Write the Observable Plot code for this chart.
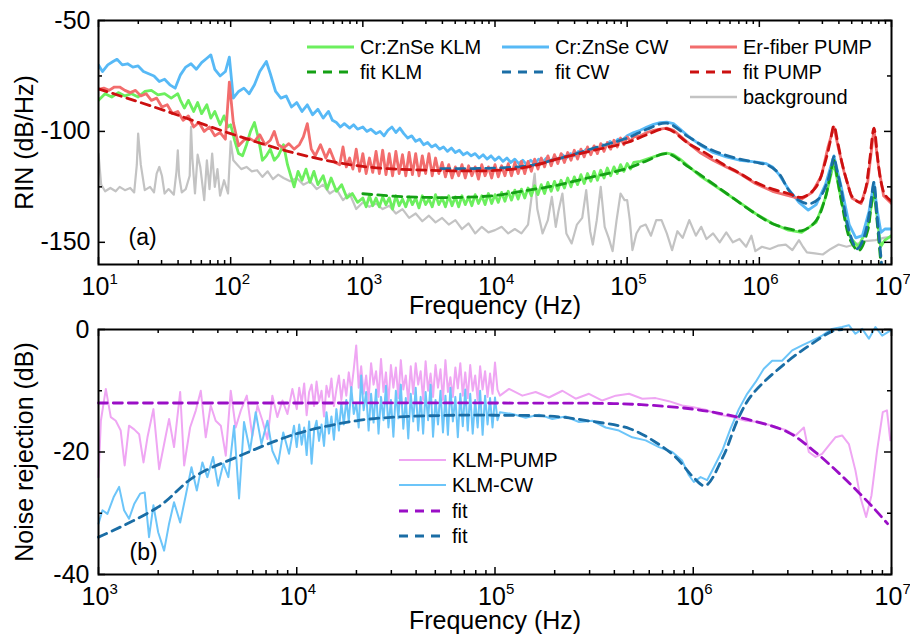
<!DOCTYPE html>
<html><head><meta charset="utf-8">
<script src="https://cdn.jsdelivr.net/npm/d3@7"></script>
<script src="https://cdn.jsdelivr.net/npm/@observablehq/plot@0.6"></script>
<style>
body{margin:0;background:#fff;font-family:"Liberation Sans",Arial,sans-serif;}
#chart{width:910px;height:637px;position:relative;background:#fff;}
#chart svg{display:block;overflow:visible;}
</style></head><body><div id="chart"></div>
<script>
// ===== DATA (first item = log10 of frequency in Hz, second = value) =====
// Panel (a): RIN in dB/Hz
const rinKLM = [[1.00,-86],[1.05,-83],[1.10,-84.5],[1.15,-82.5],[1.20,-84],[1.25,-83],[1.30,-84.5],[1.35,-82],[1.40,-81.5],[1.45,-83.5],[1.50,-83],[1.55,-85],[1.60,-83],[1.62,-86],[1.65,-89.5],[1.68,-86],[1.72,-91],[1.75,-87],[1.78,-92],[1.82,-88],[1.85,-94],[1.88,-91],[1.92,-97],[1.95,-93],[1.98,-98],[2.00,-97],[2.03,-104],[2.06,-110],[2.09,-111],[2.12,-106],[2.15,-100],[2.18,-96],[2.21,-103],[2.24,-113],[2.27,-111],[2.30,-108],[2.33,-113],[2.36,-111],[2.40,-106],[2.43,-115],[2.46,-121],[2.48,-125],[2.51,-118],[2.54,-122],[2.57,-117],[2.60,-123],[2.63,-118],[2.66,-124],[2.70,-120],[2.73,-126],[2.76,-121],[2.80,-127],[2.84,-124],[2.88,-130],[2.92,-128],[2.96,-132],[3.000,-130],[3.025,-134],[3.05,-129],[3.075,-133.5],[3.10,-130],[3.125,-134],[3.15,-129.5],[3.175,-133],[3.20,-130],[3.225,-135],[3.25,-129],[3.275,-133.5],[3.30,-130.5],[3.325,-134],[3.35,-129.5],[3.375,-133],[3.40,-130],[3.425,-134.5],[3.45,-129],[3.475,-133],[3.50,-130.5],[3.525,-134],[3.55,-128.5],[3.575,-133],[3.60,-130],[3.625,-134],[3.65,-129],[3.675,-133.5],[3.70,-129.5],[3.725,-134],[3.75,-129],[3.775,-133],[3.80,-129.5],[3.825,-133.5],[3.85,-128.5],[3.875,-132.5],[3.90,-129],[3.925,-133],[3.95,-128],[3.975,-132.5],[4.00,-128.5],[4.025,-132],[4.05,-127.5],[4.075,-131.5],[4.10,-127],[4.125,-131],[4.15,-126.5],[4.175,-130.5],[4.20,-126],[4.225,-130],[4.25,-125.5],[4.275,-129],[4.30,-124.5],[4.325,-128.5],[4.35,-124],[4.375,-128],[4.40,-123],[4.425,-127],[4.45,-122.5],[4.475,-126.5],[4.50,-122],[4.525,-125.5],[4.55,-121],[4.575,-125],[4.60,-120.5],[4.625,-124],[4.65,-119.5],[4.675,-123.5],[4.70,-119],[4.725,-122.5],[4.75,-118],[4.775,-122],[4.80,-117.5],[4.825,-121],[4.85,-116.5],[4.875,-120],[4.90,-116],[4.925,-119],[4.95,-115],[4.975,-118],[5.00,-114.5],[5.025,-117],[5.05,-114],[5.10,-113.5],[5.15,-112.5],[5.20,-111.5],[5.25,-110.5],[5.30,-109.8],[5.35,-110.5],[5.40,-112.5],[5.47,-116],[5.55,-120],[5.65,-124],[5.75,-128],[5.85,-132],[5.97,-137],[6.10,-141.5],[6.22,-144.5],[6.32,-145.5],[6.43,-141],[6.50,-130],[6.564,-114],[6.627,-133],[6.69,-148],[6.75,-152],[6.82,-143],[6.867,-127],[6.89,-138],[6.918,-152],[6.95,-149],[7.00,-147]];
const rinCW = [[1.00,-70],[1.03,-73],[1.07,-70],[1.11,-68.5],[1.14,-67.5],[1.18,-70],[1.22,-69.5],[1.26,-71],[1.30,-70.5],[1.34,-73],[1.38,-74],[1.42,-75],[1.46,-77.5],[1.50,-76.5],[1.54,-79],[1.58,-80.5],[1.62,-74.5],[1.66,-71],[1.70,-69.5],[1.74,-72],[1.78,-69],[1.82,-67],[1.85,-65.5],[1.88,-72],[1.92,-75],[1.96,-73],[1.99,-66.5],[2.02,-85],[2.06,-82],[2.10,-80.5],[2.14,-83],[2.18,-79],[2.22,-73],[2.27,-68.5],[2.30,-74],[2.34,-82],[2.38,-85],[2.42,-84],[2.46,-89],[2.50,-87],[2.54,-91],[2.58,-88],[2.62,-92.5],[2.66,-90],[2.70,-94],[2.74,-91],[2.77,-95],[2.80,-96],[2.83,-98],[2.86,-96.5],[2.90,-98.5],[2.93,-97],[2.96,-99],[3.00,-98],[3.03,-100],[3.06,-99],[3.10,-101],[3.13,-100],[3.16,-102],[3.19,-99.5],[3.22,-98],[3.25,-100.5],[3.28,-98.5],[3.31,-101],[3.34,-103],[3.37,-102],[3.40,-104.5],[3.43,-103.5],[3.46,-106],[3.49,-105],[3.52,-107],[3.55,-106],[3.58,-108],[3.61,-107],[3.64,-109],[3.67,-107.5],[3.70,-109.5],[3.73,-108.5],[3.76,-110.5],[3.79,-109.5],[3.82,-111],[3.85,-110],[3.88,-112],[3.91,-110.5],[3.94,-112.5],[3.97,-111],[4.00,-113],[4.03,-111.5],[4.06,-113.5],[4.09,-112],[4.12,-114],[4.15,-112.5],[4.18,-114.5],[4.21,-113],[4.24,-115],[4.27,-113],[4.30,-114.5],[4.33,-112.5],[4.36,-114],[4.39,-112],[4.42,-113.5],[4.45,-111.5],[4.48,-112.5],[4.51,-110.5],[4.54,-112],[4.57,-110],[4.60,-111],[4.63,-109],[4.66,-110],[4.69,-108],[4.72,-109],[4.75,-107],[4.78,-108],[4.81,-106],[4.84,-106.5],[4.87,-104.5],[4.90,-105.5],[4.93,-103.5],[4.96,-104],[5.00,-102],[5.05,-100.5],[5.10,-99.5],[5.15,-98],[5.20,-96.8],[5.25,-96],[5.30,-95.8],[5.35,-96.5],[5.40,-99],[5.47,-102.5],[5.55,-106],[5.65,-109.5],[5.75,-111.5],[5.85,-113],[5.95,-113.6],[6.05,-114.5],[6.10,-116],[6.15,-119.5],[6.22,-126],[6.30,-132],[6.37,-135.5],[6.43,-133],[6.50,-124],[6.564,-111],[6.62,-125],[6.68,-142],[6.73,-148],[6.78,-147],[6.83,-136],[6.867,-123],[6.89,-135],[6.92,-145.5],[6.95,-144],[7.00,-144]];
const rinPUMP = [[1.00,-81],[1.04,-80.5],[1.08,-81.5],[1.12,-80],[1.16,-80],[1.20,-81.5],[1.24,-82.5],[1.28,-81.5],[1.32,-84],[1.36,-83],[1.40,-86],[1.44,-85],[1.48,-89],[1.52,-88],[1.56,-92],[1.60,-91],[1.64,-95],[1.68,-93],[1.72,-98],[1.76,-96],[1.80,-100],[1.84,-98],[1.88,-102],[1.92,-100.5],[1.96,-103.5],[1.99,-77.8],[2.02,-96],[2.06,-106.5],[2.10,-104],[2.14,-103],[2.18,-104.5],[2.22,-101.5],[2.26,-106],[2.30,-104],[2.33,-100],[2.36,-106],[2.40,-107.5],[2.44,-105.5],[2.48,-108],[2.52,-106],[2.55,-102.5],[2.58,-96.5],[2.61,-108],[2.64,-111],[2.68,-106],[2.72,-112],[2.75,-108],[2.79,-114],[2.825,-115],[2.85,-107],[2.875,-116],[2.90,-112],[2.925,-117],[2.95,-108],[2.975,-118],[3.00,-110],[3.025,-119],[3.05,-112],[3.075,-118.5],[3.10,-109],[3.125,-119],[3.15,-108.5],[3.175,-119.5],[3.20,-110],[3.225,-120],[3.25,-109],[3.275,-119],[3.30,-110.5],[3.325,-120],[3.35,-109.5],[3.375,-119.5],[3.40,-110],[3.425,-120],[3.45,-111],[3.475,-119],[3.50,-110],[3.525,-120],[3.55,-112],[3.575,-119],[3.60,-114],[3.625,-120.5],[3.65,-115],[3.675,-121],[3.70,-116],[3.725,-120],[3.75,-115],[3.775,-121],[3.80,-115.5],[3.825,-120],[3.85,-116],[3.875,-121.5],[3.90,-115],[3.925,-120],[3.95,-116],[3.975,-121],[4.00,-115],[4.025,-120.5],[4.05,-115.5],[4.075,-120],[4.10,-114.5],[4.125,-120],[4.15,-114],[4.175,-119],[4.20,-113.5],[4.225,-119],[4.25,-113.5],[4.275,-118],[4.30,-112.5],[4.325,-117],[4.35,-112],[4.375,-116],[4.40,-111],[4.425,-115.5],[4.45,-110.5],[4.475,-114.5],[4.50,-110],[4.525,-114],[4.55,-109.5],[4.575,-113],[4.60,-108.5],[4.625,-112.5],[4.65,-108],[4.675,-111.5],[4.70,-107],[4.725,-110.5],[4.75,-106.5],[4.775,-110],[4.80,-105.5],[4.825,-109],[4.85,-105],[4.875,-108],[4.90,-104],[4.925,-107],[4.95,-103],[4.975,-106],[5.00,-102.5],[5.025,-104.5],[5.05,-102.5],[5.10,-102],[5.15,-100.5],[5.20,-99.5],[5.25,-99],[5.30,-98.5],[5.35,-99.5],[5.40,-102],[5.47,-105.6],[5.55,-109.5],[5.65,-113],[5.75,-116],[5.85,-119],[5.97,-123.5],[6.10,-127],[6.22,-129],[6.32,-130.5],[6.40,-127.5],[6.47,-120],[6.52,-107],[6.564,-98],[6.60,-108],[6.64,-118],[6.70,-130],[6.77,-132.5],[6.82,-123],[6.867,-99],[6.90,-115],[6.94,-129],[7.00,-132.5]];
const rinBackground = [[1.00,-110],[1.02,-124],[1.05,-127],[1.09,-125.5],[1.13,-127],[1.16,-125],[1.20,-126.5],[1.24,-125.5],[1.27,-127.5],[1.29,-115],[1.30,-101],[1.32,-115],[1.35,-126.5],[1.39,-125],[1.42,-127.5],[1.44,-119],[1.46,-116],[1.48,-120],[1.50,-128],[1.53,-126],[1.57,-128.5],[1.59,-118],[1.60,-108.5],[1.61,-120],[1.63,-127.5],[1.66,-126],[1.69,-120],[1.70,-98],[1.71,-112],[1.73,-128],[1.75,-110.5],[1.77,-116],[1.80,-131],[1.82,-113],[1.84,-126],[1.86,-110],[1.88,-125],[1.90,-117],[1.92,-129],[1.95,-122],[1.98,-128],[2.00,-104.5],[2.02,-113],[2.05,-115],[2.08,-117],[2.12,-116],[2.16,-118],[2.20,-117.5],[2.24,-120.5],[2.28,-118],[2.32,-121.5],[2.36,-119.5],[2.40,-121],[2.45,-122.5],[2.50,-121],[2.55,-124],[2.60,-122.5],[2.65,-126],[2.70,-124],[2.75,-128],[2.80,-126],[2.85,-131],[2.90,-128],[2.95,-135],[3.00,-132],[3.05,-134],[3.10,-132.5],[3.15,-135],[3.20,-133.5],[3.25,-137],[3.30,-135],[3.35,-139],[3.40,-137],[3.45,-140.5],[3.50,-138],[3.55,-141],[3.60,-139],[3.65,-142],[3.70,-140],[3.75,-144],[3.80,-141.5],[3.85,-146],[3.90,-143],[3.95,-145.5],[4.00,-144.5],[4.05,-143],[4.10,-146],[4.15,-144],[4.20,-146],[4.25,-142],[4.28,-128],[4.30,-119],[4.32,-135],[4.36,-146],[4.40,-140],[4.43,-129.5],[4.46,-143],[4.48,-136],[4.51,-128],[4.54,-146],[4.58,-150.5],[4.62,-142],[4.66,-139],[4.69,-126.5],[4.72,-145],[4.74,-151],[4.77,-140],[4.80,-125],[4.83,-143],[4.86,-148],[4.89,-154],[4.92,-140],[4.95,-128],[4.98,-131],[5.00,-131],[5.02,-140],[5.04,-153.5],[5.07,-146],[5.10,-143],[5.14,-142],[5.18,-147],[5.22,-140],[5.26,-140],[5.30,-146],[5.34,-153.5],[5.38,-145],[5.42,-148],[5.47,-140],[5.52,-147],[5.56,-143],[5.60,-148.5],[5.65,-146],[5.70,-150],[5.75,-145.5],[5.80,-150],[5.85,-148.5],[5.90,-152],[5.94,-147],[5.97,-154],[6.02,-152],[6.08,-153],[6.14,-151.5],[6.20,-151],[6.25,-153.5],[6.30,-149],[6.33,-152],[6.36,-154.5],[6.42,-155],[6.48,-155.5],[6.54,-153],[6.60,-151],[6.66,-152],[6.72,-151],[6.80,-149.5],[6.88,-149],[6.94,-148],[7.00,-147.5]];
const fitKLM = [[3.0,-128.1],[3.3,-129.4],[3.7,-129.8],[4.0,-128.9],[4.2,-127],[4.45,-124.5],[4.7,-121],[5.0,-116.7],[5.15,-113.2],[5.3,-110],[5.467,-116.1],[5.72,-126.6],[5.97,-137.1],[6.1,-141.6],[6.224,-143.9],[6.325,-144.7],[6.43,-140.2],[6.5,-129.7],[6.535,-120],[6.564,-113.1],[6.59,-121],[6.627,-133.4],[6.69,-149.2],[6.753,-153.7],[6.82,-144.7],[6.845,-134],[6.867,-126.6],[6.89,-140],[6.918,-158.2],[6.94,-170]];
const fitCW = [[3.59,-116.8],[3.9,-116.7],[4.25,-115.5],[4.5,-112],[4.75,-107.5],[5.0,-103],[5.15,-99],[5.3,-96.3],[5.467,-102.6],[5.594,-107.1],[5.72,-110.2],[5.846,-112.4],[5.97,-113.9],[6.07,-115.4],[6.15,-119.1],[6.224,-126.6],[6.3,-131.1],[6.376,-132.6],[6.45,-130.4],[6.514,-122.9],[6.545,-116],[6.564,-111.3],[6.585,-117],[6.614,-124.4],[6.678,-144.7],[6.74,-152.9],[6.79,-148],[6.83,-137.8],[6.85,-129],[6.867,-122.9],[6.89,-137.8],[6.918,-155.2],[6.94,-170]];
const fitPUMP = [[1.0,-80.8],[1.5,-90.6],[2.0,-101],[2.5,-110],[3.0,-115.8],[3.5,-117.5],[4.0,-117.6],[4.25,-116],[4.5,-112],[4.75,-108.5],[5.0,-105],[5.15,-101.5],[5.3,-98.8],[5.467,-105.6],[5.6,-110],[5.72,-114.6],[5.85,-118.8],[5.97,-122.9],[6.1,-126],[6.224,-128.1],[6.325,-129.7],[6.43,-125],[6.5,-113.5],[6.535,-105],[6.564,-97.5],[6.595,-105.5],[6.627,-114.6],[6.67,-124],[6.703,-129.5],[6.766,-131.9],[6.8,-127],[6.835,-113],[6.867,-98.5],[6.895,-112],[6.918,-122],[6.95,-128.5],[7.0,-131.5]];

// Panel (b): noise rejection in dB
const rejPUMP = [[3.000,-24.1],[3.012,-14.9],[3.037,-9.7],[3.062,-14.3],[3.087,-14.9],[3.112,-16.5],[3.132,-22.2],[3.154,-15.7],[3.180,-16.3],[3.205,-17.1],[3.227,-21.7],[3.247,-17.6],[3.277,-13.0],[3.306,-22.8],[3.331,-18.7],[3.356,-14.6],[3.381,-19.2],[3.412,-10.2],[3.432,-22.2],[3.462,-16.0],[3.491,-13.2],[3.516,-10.0],[3.541,-17.6],[3.566,-12.4],[3.591,-14.9],[3.617,-15.7],[3.642,-20.6],[3.667,-10.0],[3.692,-16.0],[3.718,-13.2],[3.748,-10.8],[3.776,-17.4],[3.802,-12.4],[3.827,-14.9],[3.852,-17.9],[3.877,-10.8],[3.902,-14.3],[3.928,-11.6],[3.953,-13.8],[3.978,-9.7],[4.0000,-13.0],[4.0125,-9.5],[4.0250,-12.0],[4.0375,-8.8],[4.0500,-14.0],[4.0625,-10.2],[4.0750,-9.0],[4.0875,-12.5],[4.1000,-8.5],[4.1125,-11.8],[4.1250,-10.0],[4.1375,-14.2],[4.1500,-9.2],[4.1625,-11.0],[4.1750,-8.0],[4.1875,-12.5],[4.2000,-9.8],[4.2125,-7.5],[4.2250,-11.5],[4.2375,-8.2],[4.2500,-10.8],[4.2625,-7.0],[4.2750,-10.0],[4.2875,-6.5],[4.3000,-2.6],[4.3125,-9.5],[4.3250,-6.0],[4.3375,-10.5],[4.3500,-7.5],[4.3625,-11.5],[4.3750,-5.5],[4.3875,-9.0],[4.4000,-6.8],[4.4125,-11.0],[4.4250,-4.8],[4.4375,-10.2],[4.4500,-7.0],[4.4625,-12.0],[4.4750,-5.8],[4.4875,-9.5],[4.5000,-6.2],[4.5125,-11.2],[4.5250,-5.0],[4.5375,-9.8],[4.5500,-7.5],[4.5625,-11.8],[4.5750,-6.0],[4.5875,-10.5],[4.6000,-5.5],[4.6125,-9.0],[4.6250,-6.8],[4.6375,-11.5],[4.6500,-5.2],[4.6625,-10.0],[4.6750,-7.2],[4.6875,-11.0],[4.7000,-5.8],[4.7125,-9.5],[4.7250,-6.5],[4.7375,-11.5],[4.7500,-5.0],[4.7625,-10.2],[4.7750,-7.8],[4.7875,-11.0],[4.8000,-6.2],[4.8125,-9.6],[4.8250,-5.5],[4.8375,-10.8],[4.8500,-7.0],[4.8625,-11.2],[4.8750,-5.8],[4.8875,-10.0],[4.9000,-7.5],[4.9125,-11.5],[4.9250,-6.0],[4.9375,-9.8],[4.9500,-6.8],[4.9625,-11.0],[4.9750,-7.2],[4.9875,-10.5],[5.0000,-5.4],[5.0125,-9.8],[5.0250,-10.8],[5.071,-9.7],[5.138,-10.8],[5.205,-10.2],[5.272,-11.1],[5.340,-10.0],[5.407,-11.3],[5.474,-10.5],[5.541,-11.6],[5.609,-10.8],[5.676,-10.5],[5.743,-11.3],[5.810,-11.2],[5.877,-11.7],[5.944,-12.4],[6.000,-12.7],[6.062,-13.1],[6.129,-13.9],[6.197,-14.3],[6.264,-14.9],[6.331,-15.1],[6.398,-15.7],[6.465,-16.4],[6.516,-17.3],[6.558,-16.0],[6.583,-20.0],[6.617,-20.8],[6.650,-20.3],[6.684,-18.9],[6.717,-17.6],[6.751,-17.3],[6.785,-18.7],[6.818,-23.0],[6.843,-27.4],[6.872,-30.6],[6.899,-27.1],[6.927,-19.8],[6.956,-13.5],[6.977,-13.2],[6.994,-18.1]];
const rejCW = [[3.000,-31.7],[3.020,-29.5],[3.045,-30.1],[3.076,-27.4],[3.104,-25.7],[3.129,-29.5],[3.154,-30.9],[3.180,-28.5],[3.210,-26.8],[3.233,-26.6],[3.255,-33.9],[3.277,-28.7],[3.301,-33.1],[3.331,-36.1],[3.356,-31.7],[3.381,-28.2],[3.412,-31.5],[3.440,-27.1],[3.469,-22.5],[3.496,-26.3],[3.524,-21.7],[3.549,-24.1],[3.578,-20.8],[3.603,-25.5],[3.630,-21.9],[3.655,-24.1],[3.684,-15.7],[3.709,-27.6],[3.734,-15.1],[3.764,-19.8],[3.793,-13.5],[3.822,-18.7],[3.852,-14.9],[3.877,-19.8],[3.906,-21.9],[3.932,-16.8],[3.961,-20.3],[3.986,-15.7],[4.0000,-19.2],[4.0125,-15.5],[4.0250,-18.8],[4.0375,-16.0],[4.0500,-20.5],[4.0625,-15.0],[4.0750,-21.9],[4.0875,-16.5],[4.1000,-14.9],[4.1125,-18.2],[4.1250,-15.5],[4.1375,-19.0],[4.1500,-13.5],[4.1625,-17.0],[4.1750,-14.2],[4.1875,-18.0],[4.2000,-13.0],[4.2125,-16.5],[4.2250,-12.0],[4.2375,-15.5],[4.2500,-11.5],[4.2625,-15.0],[4.2750,-9.4],[4.2875,-13.8],[4.3000,-12.0],[4.3125,-16.0],[4.3250,-7.5],[4.3375,-13.2],[4.3500,-10.2],[4.3625,-16.5],[4.3750,-10.5],[4.3875,-15.2],[4.4000,-9.8],[4.4125,-17.0],[4.4250,-11.0],[4.4375,-14.8],[4.4500,-9.2],[4.4625,-16.0],[4.4750,-11.5],[4.4875,-17.5],[4.5000,-10.0],[4.5125,-14.5],[4.5250,-9.0],[4.5375,-16.2],[4.5500,-11.2],[4.5625,-17.8],[4.5750,-10.5],[4.5875,-15.0],[4.6000,-9.5],[4.6125,-16.5],[4.6250,-11.0],[4.6375,-17.0],[4.6500,-10.2],[4.6625,-14.8],[4.6750,-9.0],[4.6875,-17.5],[4.7000,-11.5],[4.7125,-15.5],[4.7250,-10.0],[4.7375,-16.8],[4.7500,-10.8],[4.7625,-17.2],[4.7750,-9.5],[4.7875,-15.0],[4.8000,-11.0],[4.8125,-17.6],[4.8250,-10.5],[4.8375,-15.8],[4.8500,-9.8],[4.8625,-16.5],[4.8750,-10.5],[4.8875,-17.0],[4.9000,-11.5],[4.9125,-16.0],[4.9250,-10.0],[4.9375,-17.2],[4.9500,-10.8],[4.9625,-15.5],[4.9750,-11.2],[4.9875,-16.0],[5.0000,-11.1],[5.0125,-14.8],[5.0250,-13.5],[5.088,-13.8],[5.155,-14.4],[5.222,-13.9],[5.289,-14.6],[5.356,-14.2],[5.424,-15.1],[5.491,-14.9],[5.558,-16.0],[5.625,-16.5],[5.692,-17.6],[5.760,-18.1],[5.827,-19.2],[5.894,-20.0],[5.944,-21.4],[5.978,-23.8],[6.003,-24.9],[6.037,-24.1],[6.070,-24.6],[6.104,-22.5],[6.146,-19.8],[6.188,-16.2],[6.230,-13.0],[6.272,-10.5],[6.314,-8.6],[6.356,-6.4],[6.398,-5.1],[6.448,-5.1],[6.499,-3.4],[6.549,-2.6],[6.600,-1.8],[6.650,-1.0],[6.700,0.1],[6.751,0.4],[6.785,0.7],[6.818,-0.7],[6.852,0.1],[6.886,-1.5],[6.919,0.4],[6.953,-1.0],[6.994,-0.2]];
const fitRejPUMP = [[3.0,-12],[4.0,-12],[5.0,-12],[5.6,-12.1],[5.8,-12.4],[6.0,-13.0],[6.15,-13.8],[6.3,-14.9],[6.48,-16.8],[6.6,-19.6],[6.7,-22.4],[6.8,-25.5],[6.9,-28.8],[6.98,-31.7]];
const fitRejCW = [[3.0,-33.9],[3.3,-29],[3.48,-24.1],[3.7,-20.8],[4.0,-17],[4.3,-14.9],[4.5,-14.3],[4.8,-14.0],[5.0,-14.0],[5.3,-14.2],[5.47,-14.9],[5.68,-16.2],[5.81,-18.4],[5.91,-20.8],[6.0,-24.1],[6.06,-25.5],[6.15,-20.8],[6.23,-14.3],[6.3,-10.5],[6.48,-5.1],[6.6,-2.3],[6.7,-0.3],[6.75,0]];

// tick labels
const yTicksA = [-50, -100, -150];
const yMinorA = [-75, -125];
const yTicksB = [0, -20, -40];
const yMinorB = [-10, -30];
const legendA = [
  {label: "Cr:ZnSe KLM", color: "#6cef5e", dash: null, w: 3, col: 0, row: 0},
  {label: "fit KLM", color: "#14a014", dash: "9,7", w: 3, col: 0, row: 1},
  {label: "Cr:ZnSe CW", color: "#57b9f6", dash: null, w: 3, col: 1, row: 0},
  {label: "fit CW", color: "#1b6ea6", dash: "9,7", w: 3, col: 1, row: 1},
  {label: "Er-fiber PUMP", color: "#f26d6d", dash: null, w: 3, col: 2, row: 0},
  {label: "fit PUMP", color: "#cc1010", dash: "9,7", w: 3, col: 2, row: 1},
  {label: "background", color: "#c3c3c3", dash: null, w: 2.5, col: 2, row: 2}
];
const legendB = [
  {label: "KLM-PUMP", color: "#efa6f3", dash: null, w: 2},
  {label: "KLM-CW", color: "#6cc5f9", dash: null, w: 2},
  {label: "fit", color: "#9a0ec6", dash: "9,7", w: 3},
  {label: "fit", color: "#1a6da5", dash: "9,7", w: 3}
];

// ===== RENDERING =====
const FONT = "Liberation Sans, Arial, Helvetica, sans-serif";
const W = 910, ML = 98, MR = 19;
const PW = W - ML - MR;
const fx = d => 10 ** d[0];
const fy = d => d[1];
function majors(a, b) { const r = []; for (let k = a; k <= b; k++) r.push(10 ** k); return r; }
function minors(a, b) { const r = []; for (let k = a; k < b; k++) for (let m = 2; m <= 9; m++) r.push(m * 10 ** k); return r; }

function frameTicks(xMaj, xMin, yMaj, yMin, PH) {
  const s = {stroke: "#000", strokeWidth: 1.5};
  return [
    Plot.tickX(xMaj, {x: d => d, insetTop: PH - 7, ...s}),
    Plot.tickX(xMaj, {x: d => d, insetBottom: PH - 7, ...s}),
    Plot.tickX(xMin, {x: d => d, insetTop: PH - 4, ...s}),
    Plot.tickX(xMin, {x: d => d, insetBottom: PH - 4, ...s}),
    Plot.tickY(yMaj, {y: d => d, insetRight: PW - 7, ...s}),
    Plot.tickY(yMaj, {y: d => d, insetLeft: PW - 7, ...s}),
    Plot.tickY(yMin, {y: d => d, insetRight: PW - 4, ...s}),
    Plot.tickY(yMin, {y: d => d, insetLeft: PW - 4, ...s})
  ];
}
function xLabels(xMaj) {
  return [
    Plot.text(xMaj, {x: d => d, frameAnchor: "bottom", lineAnchor: "middle", text: () => "10", dy: 22, dx: -3, fontSize: 25, fill: "#000"}),
    Plot.text(xMaj, {x: d => d, frameAnchor: "bottom", lineAnchor: "middle", text: d => String(Math.round(Math.log10(d))), dy: 15, dx: 11, textAnchor: "start", fontSize: 15, fill: "#000"})
  ];
}
function addLegend(svg, items) {
  const g = d3.select(svg).append("g").attr("font-family", FONT).attr("font-size", 20)
    .attr("fill", "#000").attr("text-anchor", "start");
  for (const it of items) {
    g.append("line").attr("x1", it.x).attr("x2", it.x + 47).attr("y1", it.y).attr("y2", it.y)
      .attr("stroke", it.color).attr("stroke-width", it.w).attr("stroke-dasharray", it.dash);
    g.append("text").attr("x", it.x + 53).attr("y", it.y).attr("dy", "0.35em").text(it.label);
  }
}

// Panel (a)
const PHa = 244;
const xMajA = majors(1, 7), xMinA = minors(1, 7);
const plotA = Plot.plot({
  width: W, height: 320, marginLeft: ML, marginRight: MR, marginTop: 20, marginBottom: 56,
  style: {fontFamily: FONT, fontSize: "25px", color: "#000", background: "#fff", overflow: "visible"},
  x: {type: "log", domain: [10, 1e7], axis: null},
  y: {domain: [-160, -50], axis: null},
  marks: [
    Plot.line(rinBackground, {x: fx, y: fy, stroke: "#c3c3c3", strokeWidth: 2.2, clip: true}),
    Plot.line(rinKLM, {x: fx, y: fy, stroke: "#6cef5e", strokeWidth: 2.8, clip: true}),
    Plot.line(rinCW, {x: fx, y: fy, stroke: "#57b9f6", strokeWidth: 2.8, clip: true}),
    Plot.line(rinPUMP, {x: fx, y: fy, stroke: "#f26d6d", strokeWidth: 2.8, clip: true}),
    Plot.line(fitKLM, {x: fx, y: fy, stroke: "#14a014", strokeWidth: 2.8, strokeDasharray: "9,6", curve: "catmull-rom", clip: true}),
    Plot.line(fitCW, {x: fx, y: fy, stroke: "#1b6ea6", strokeWidth: 2.8, strokeDasharray: "9,6", curve: "catmull-rom", clip: true}),
    Plot.line(fitPUMP, {x: fx, y: fy, stroke: "#cc1010", strokeWidth: 2.8, strokeDasharray: "9,6", curve: "catmull-rom", clip: true}),
    Plot.frame({stroke: "#000", strokeWidth: 2}),
    ...frameTicks(xMajA, xMinA, yTicksA, yMinorA, PHa),
    Plot.axisY(yTicksA, {tickSize: 0, tickPadding: 8, label: null, fontSize: 25, tickFormat: d => String(d)}),
    ...xLabels(xMajA),
    Plot.text(["Frequency (Hz)"], {frameAnchor: "bottom", lineAnchor: "middle", textAnchor: "middle", dy: 41, fontSize: 25, fill: "#000"}),
    Plot.text(["RIN (dB/Hz)"], {frameAnchor: "left", lineAnchor: "middle", textAnchor: "middle", dx: -74, rotate: -90, fontSize: 25, fill: "#000"}),
    Plot.text(["(a)"], {frameAnchor: "bottom-left", lineAnchor: "middle", textAnchor: "start", dx: 30, dy: -27, fontSize: 23, fill: "#000"})
  ]
});

// Panel (b)
const PHb = 245;
const xMajB = majors(3, 7), xMinB = minors(3, 7);
const plotB = Plot.plot({
  width: W, height: 317, marginLeft: ML, marginRight: MR, marginTop: 9, marginBottom: 63,
  style: {fontFamily: FONT, fontSize: "25px", color: "#000", background: "#fff", overflow: "visible"},
  x: {type: "log", domain: [1e3, 1e7], axis: null},
  y: {domain: [-40, 0], axis: null},
  marks: [
    Plot.line(rejPUMP, {x: fx, y: fy, stroke: "#efa6f3", strokeWidth: 2}),
    Plot.line(rejCW, {x: fx, y: fy, stroke: "#6cc5f9", strokeWidth: 2}),
    Plot.line(fitRejPUMP, {x: fx, y: fy, stroke: "#9a0ec6", strokeWidth: 2.8, strokeDasharray: "9,6", curve: "catmull-rom"}),
    Plot.line(fitRejCW, {x: fx, y: fy, stroke: "#1a6da5", strokeWidth: 2.8, strokeDasharray: "9,6", curve: "catmull-rom"}),
    Plot.frame({stroke: "#000", strokeWidth: 2}),
    ...frameTicks(xMajB, xMinB, yTicksB, yMinorB, PHb),
    Plot.axisY(yTicksB, {tickSize: 0, tickPadding: 9, label: null, fontSize: 25, tickFormat: d => String(d)}),
    ...xLabels(xMajB),
    Plot.text(["Frequency (Hz)"], {frameAnchor: "bottom", lineAnchor: "middle", textAnchor: "middle", dy: 46, fontSize: 25, fill: "#000"}),
    Plot.text(["Noise rejection (dB)"], {frameAnchor: "left", lineAnchor: "middle", textAnchor: "middle", dx: -74, rotate: -90, fontSize: 25, fill: "#000"}),
    Plot.text(["(b)"], {frameAnchor: "bottom-left", lineAnchor: "middle", textAnchor: "start", dx: 31, dy: -22, fontSize: 23, fill: "#000"})
  ]
});

// Legends (layout only)
const colX = [307, 502, 690], rowY = [47, 72, 97];
addLegend(plotA, legendA.map(d => ({...d, x: colX[d.col], y: rowY[d.row]})));
const rowYB = [460, 485, 511, 536];
addLegend(plotB, legendB.map((d, i) => ({...d, x: 399, y: rowYB[i] - 320})));

const chart = document.getElementById("chart");
chart.append(plotA, plotB);
</script></body></html>
